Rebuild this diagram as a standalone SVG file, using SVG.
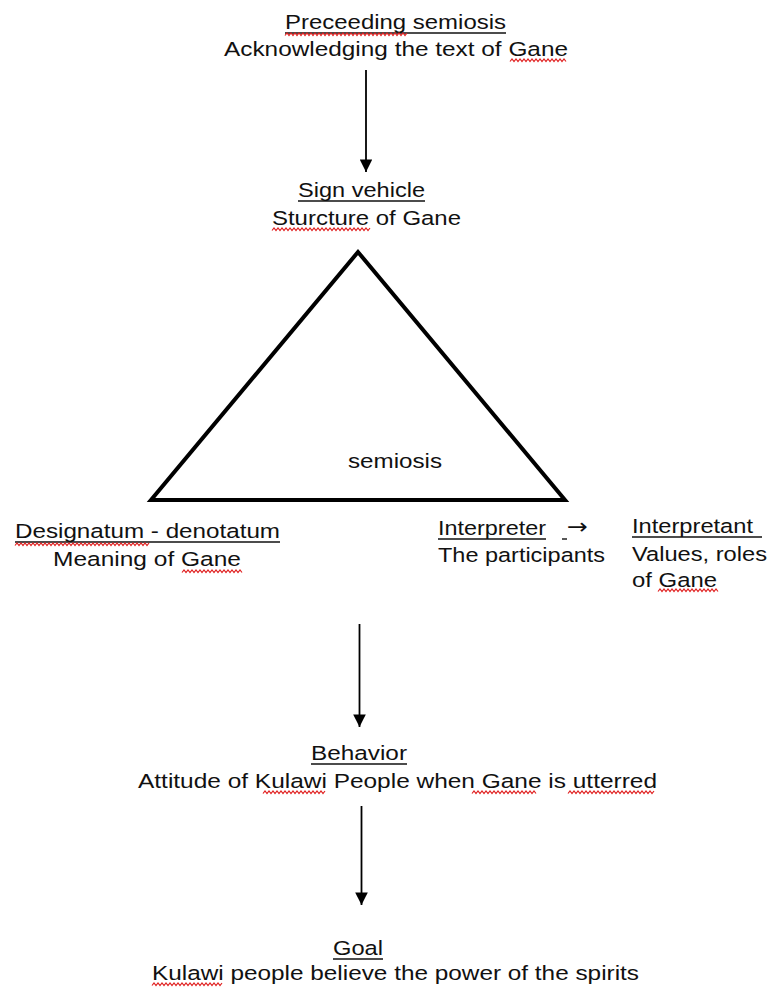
<svg xmlns="http://www.w3.org/2000/svg" width="774" height="989" viewBox="0 0 774 989">
<defs>
<style>
text{font-family:"Liberation Sans",Arial,"DejaVu Sans",sans-serif;font-size:20.5px;fill:#111;}
.ul{stroke:#111;stroke-width:1.4;fill:none;}
.sq{stroke:#e02020;stroke-width:1.2;fill:none;}
.conn{stroke:#000;stroke-width:1.8;fill:none;}
.tri{stroke:#000;stroke-width:4;fill:#fff;stroke-linejoin:miter;}
</style>
<marker id="ah" viewBox="0 0 10 10" refX="10" refY="5" markerWidth="7.5" markerHeight="7" markerUnits="strokeWidth" orient="auto">
<path d="M0,0 L10,5 L0,10 z" fill="#000"/>
</marker>
</defs>
<rect width="774" height="989" fill="#fff"/>

<g id="connectors">
<line class="conn" x1="366" y1="70" x2="366" y2="172" marker-end="url(#ah)"/>
<line class="conn" x1="359.5" y1="624" x2="359.5" y2="727" marker-end="url(#ah)"/>
<line class="conn" x1="361.5" y1="806" x2="361.5" y2="905" marker-end="url(#ah)"/>
</g>

<g id="preceeding">
<text x="285" y="29" textLength="221" lengthAdjust="spacingAndGlyphs">Preceeding semiosis</text>
<line class="ul" x1="285" y1="33" x2="506" y2="33"/>
<path class="sq" d="M285,35.5 l2,-2.5 l2,2.5 l2,-2.5 l2,2.5 l2,-2.5 l2,2.5 l2,-2.5 l2,2.5 l2,-2.5 l2,2.5 l2,-2.5 l2,2.5 l2,-2.5 l2,2.5 l2,-2.5 l2,2.5 l2,-2.5 l2,2.5 l2,-2.5 l2,2.5 l2,-2.5 l2,2.5 l2,-2.5 l2,2.5 l2,-2.5 l2,2.5 l2,-2.5 l2,2.5 l2,-2.5 l2,2.5 l2,-2.5 l2,2.5 l2,-2.5 l2,2.5 l2,-2.5 l2,2.5 l2,-2.5 l2,2.5 l2,-2.5 l2,2.5 l2,-2.5 l2,2.5 l2,-2.5 l2,2.5 l2,-2.5 l2,2.5 l2,-2.5 l2,2.5 l2,-2.5 l2,2.5 l2,-2.5 l2,2.5 l2,-2.5 l2,2.5 l2,-2.5 l2,2.5 l2,-2.5 l2,2.5 l2,-2.5 l2,2.5 l2,-2.5"/>
<text x="224" y="56" textLength="344" lengthAdjust="spacingAndGlyphs">Acknowledging the text of Gane</text>
<path class="sq" d="M510,61.5 l2,-2.5 l2,2.5 l2,-2.5 l2,2.5 l2,-2.5 l2,2.5 l2,-2.5 l2,2.5 l2,-2.5 l2,2.5 l2,-2.5 l2,2.5 l2,-2.5 l2,2.5 l2,-2.5 l2,2.5 l2,-2.5 l2,2.5 l2,-2.5 l2,2.5 l2,-2.5 l2,2.5 l2,-2.5 l2,2.5 l2,-2.5 l2,2.5 l2,-2.5 l2,2.5"/>
</g>

<g id="sign-vehicle">
<text x="298" y="197" textLength="127" lengthAdjust="spacingAndGlyphs">Sign vehicle</text>
<line class="ul" x1="298" y1="201" x2="425" y2="201"/>
<text x="272" y="225" textLength="189" lengthAdjust="spacingAndGlyphs">Sturcture of Gane</text>
<path class="sq" d="M272,230.5 l2,-2.5 l2,2.5 l2,-2.5 l2,2.5 l2,-2.5 l2,2.5 l2,-2.5 l2,2.5 l2,-2.5 l2,2.5 l2,-2.5 l2,2.5 l2,-2.5 l2,2.5 l2,-2.5 l2,2.5 l2,-2.5 l2,2.5 l2,-2.5 l2,2.5 l2,-2.5 l2,2.5 l2,-2.5 l2,2.5 l2,-2.5 l2,2.5 l2,-2.5 l2,2.5 l2,-2.5 l2,2.5 l2,-2.5 l2,2.5 l2,-2.5 l2,2.5 l2,-2.5 l2,2.5 l2,-2.5 l2,2.5 l2,-2.5 l2,2.5 l2,-2.5 l2,2.5 l2,-2.5 l2,2.5 l2,-2.5 l2,2.5 l2,-2.5 l2,2.5 l2,-2.5"/>
</g>

<g id="semiosis">
<polygon class="tri" points="358,252 151,500 565,500"/>
<text x="348" y="468" textLength="94" lengthAdjust="spacingAndGlyphs">semiosis</text>
</g>

<g id="designatum">
<text x="15" y="538" textLength="265" lengthAdjust="spacingAndGlyphs">Designatum - denotatum</text>
<line class="ul" x1="15" y1="542" x2="280" y2="542"/>
<path class="sq" d="M15,545.5 l2,-2.5 l2,2.5 l2,-2.5 l2,2.5 l2,-2.5 l2,2.5 l2,-2.5 l2,2.5 l2,-2.5 l2,2.5 l2,-2.5 l2,2.5 l2,-2.5 l2,2.5 l2,-2.5 l2,2.5 l2,-2.5 l2,2.5 l2,-2.5 l2,2.5 l2,-2.5 l2,2.5 l2,-2.5 l2,2.5 l2,-2.5 l2,2.5 l2,-2.5 l2,2.5 l2,-2.5 l2,2.5 l2,-2.5 l2,2.5 l2,-2.5 l2,2.5 l2,-2.5 l2,2.5 l2,-2.5 l2,2.5 l2,-2.5 l2,2.5 l2,-2.5 l2,2.5 l2,-2.5 l2,2.5 l2,-2.5 l2,2.5 l2,-2.5 l2,2.5 l2,-2.5 l2,2.5 l2,-2.5 l2,2.5 l2,-2.5 l2,2.5 l2,-2.5 l2,2.5 l2,-2.5 l2,2.5 l2,-2.5 l2,2.5 l2,-2.5 l2,2.5 l2,-2.5 l2,2.5 l2,-2.5 l2,2.5 l2,-2.5"/>
<text x="53" y="566" textLength="188" lengthAdjust="spacingAndGlyphs">Meaning of Gane</text>
<path class="sq" d="M182,572.5 l2,-2.5 l2,2.5 l2,-2.5 l2,2.5 l2,-2.5 l2,2.5 l2,-2.5 l2,2.5 l2,-2.5 l2,2.5 l2,-2.5 l2,2.5 l2,-2.5 l2,2.5 l2,-2.5 l2,2.5 l2,-2.5 l2,2.5 l2,-2.5 l2,2.5 l2,-2.5 l2,2.5 l2,-2.5 l2,2.5 l2,-2.5 l2,2.5 l2,-2.5 l2,2.5 l2,-2.5 l2,2.5"/>
</g>

<g id="interpreter">
<text x="438" y="535" textLength="108" lengthAdjust="spacingAndGlyphs">Interpreter</text>
<line class="ul" x1="438" y1="539" x2="546" y2="539"/>
<line class="ul" x1="562" y1="539" x2="567" y2="539"/>
<text x="567" y="534" style="font-family:'DejaVu Sans',sans-serif;font-size:22px" textLength="21" lengthAdjust="spacingAndGlyphs">→</text>
<text x="438" y="562" textLength="167" lengthAdjust="spacingAndGlyphs">The participants</text>
</g>

<g id="interpretant">
<text x="632" y="533" textLength="121" lengthAdjust="spacingAndGlyphs">Interpretant</text>
<line class="ul" x1="632" y1="537" x2="762" y2="537"/>
<text x="632" y="561" textLength="135" lengthAdjust="spacingAndGlyphs">Values, roles</text>
<text x="632" y="587" textLength="85" lengthAdjust="spacingAndGlyphs">of Gane</text>
<path class="sq" d="M658,591.5 l2,-2.5 l2,2.5 l2,-2.5 l2,2.5 l2,-2.5 l2,2.5 l2,-2.5 l2,2.5 l2,-2.5 l2,2.5 l2,-2.5 l2,2.5 l2,-2.5 l2,2.5 l2,-2.5 l2,2.5 l2,-2.5 l2,2.5 l2,-2.5 l2,2.5 l2,-2.5 l2,2.5 l2,-2.5 l2,2.5 l2,-2.5 l2,2.5 l2,-2.5 l2,2.5 l2,-2.5 l2,2.5"/>
</g>

<g id="behavior">
<text x="311" y="760" textLength="96" lengthAdjust="spacingAndGlyphs">Behavior</text>
<line class="ul" x1="311" y1="764" x2="407" y2="764"/>
<text x="138" y="788" textLength="519" lengthAdjust="spacingAndGlyphs">Attitude of Kulawi People when Gane is utterred</text>
<path class="sq" d="M263,793.5 l2,-2.5 l2,2.5 l2,-2.5 l2,2.5 l2,-2.5 l2,2.5 l2,-2.5 l2,2.5 l2,-2.5 l2,2.5 l2,-2.5 l2,2.5 l2,-2.5 l2,2.5 l2,-2.5 l2,2.5 l2,-2.5 l2,2.5 l2,-2.5 l2,2.5 l2,-2.5 l2,2.5 l2,-2.5 l2,2.5 l2,-2.5 l2,2.5 l2,-2.5 l2,2.5 l2,-2.5 l2,2.5 l2,-2.5"/>
<path class="sq" d="M472,793.5 l2,-2.5 l2,2.5 l2,-2.5 l2,2.5 l2,-2.5 l2,2.5 l2,-2.5 l2,2.5 l2,-2.5 l2,2.5 l2,-2.5 l2,2.5 l2,-2.5 l2,2.5 l2,-2.5 l2,2.5 l2,-2.5 l2,2.5 l2,-2.5 l2,2.5 l2,-2.5 l2,2.5 l2,-2.5 l2,2.5 l2,-2.5 l2,2.5 l2,-2.5 l2,2.5 l2,-2.5 l2,2.5 l2,-2.5 l2,2.5"/>
<path class="sq" d="M568,793.5 l2,-2.5 l2,2.5 l2,-2.5 l2,2.5 l2,-2.5 l2,2.5 l2,-2.5 l2,2.5 l2,-2.5 l2,2.5 l2,-2.5 l2,2.5 l2,-2.5 l2,2.5 l2,-2.5 l2,2.5 l2,-2.5 l2,2.5 l2,-2.5 l2,2.5 l2,-2.5 l2,2.5 l2,-2.5 l2,2.5 l2,-2.5 l2,2.5 l2,-2.5 l2,2.5 l2,-2.5 l2,2.5 l2,-2.5 l2,2.5 l2,-2.5 l2,2.5 l2,-2.5 l2,2.5 l2,-2.5 l2,2.5 l2,-2.5 l2,2.5 l2,-2.5 l2,2.5 l2,-2.5"/>
</g>

<g id="goal">
<text x="333" y="955" textLength="50" lengthAdjust="spacingAndGlyphs">Goal</text>
<line class="ul" x1="333" y1="959" x2="383" y2="959"/>
<text x="152" y="980" textLength="487" lengthAdjust="spacingAndGlyphs">Kulawi people believe the power of the spirits</text>
<path class="sq" d="M152,985.5 l2,-2.5 l2,2.5 l2,-2.5 l2,2.5 l2,-2.5 l2,2.5 l2,-2.5 l2,2.5 l2,-2.5 l2,2.5 l2,-2.5 l2,2.5 l2,-2.5 l2,2.5 l2,-2.5 l2,2.5 l2,-2.5 l2,2.5 l2,-2.5 l2,2.5 l2,-2.5 l2,2.5 l2,-2.5 l2,2.5 l2,-2.5 l2,2.5 l2,-2.5 l2,2.5 l2,-2.5 l2,2.5 l2,-2.5 l2,2.5 l2,-2.5 l2,2.5 l2,-2.5"/>
</g>
</svg>
